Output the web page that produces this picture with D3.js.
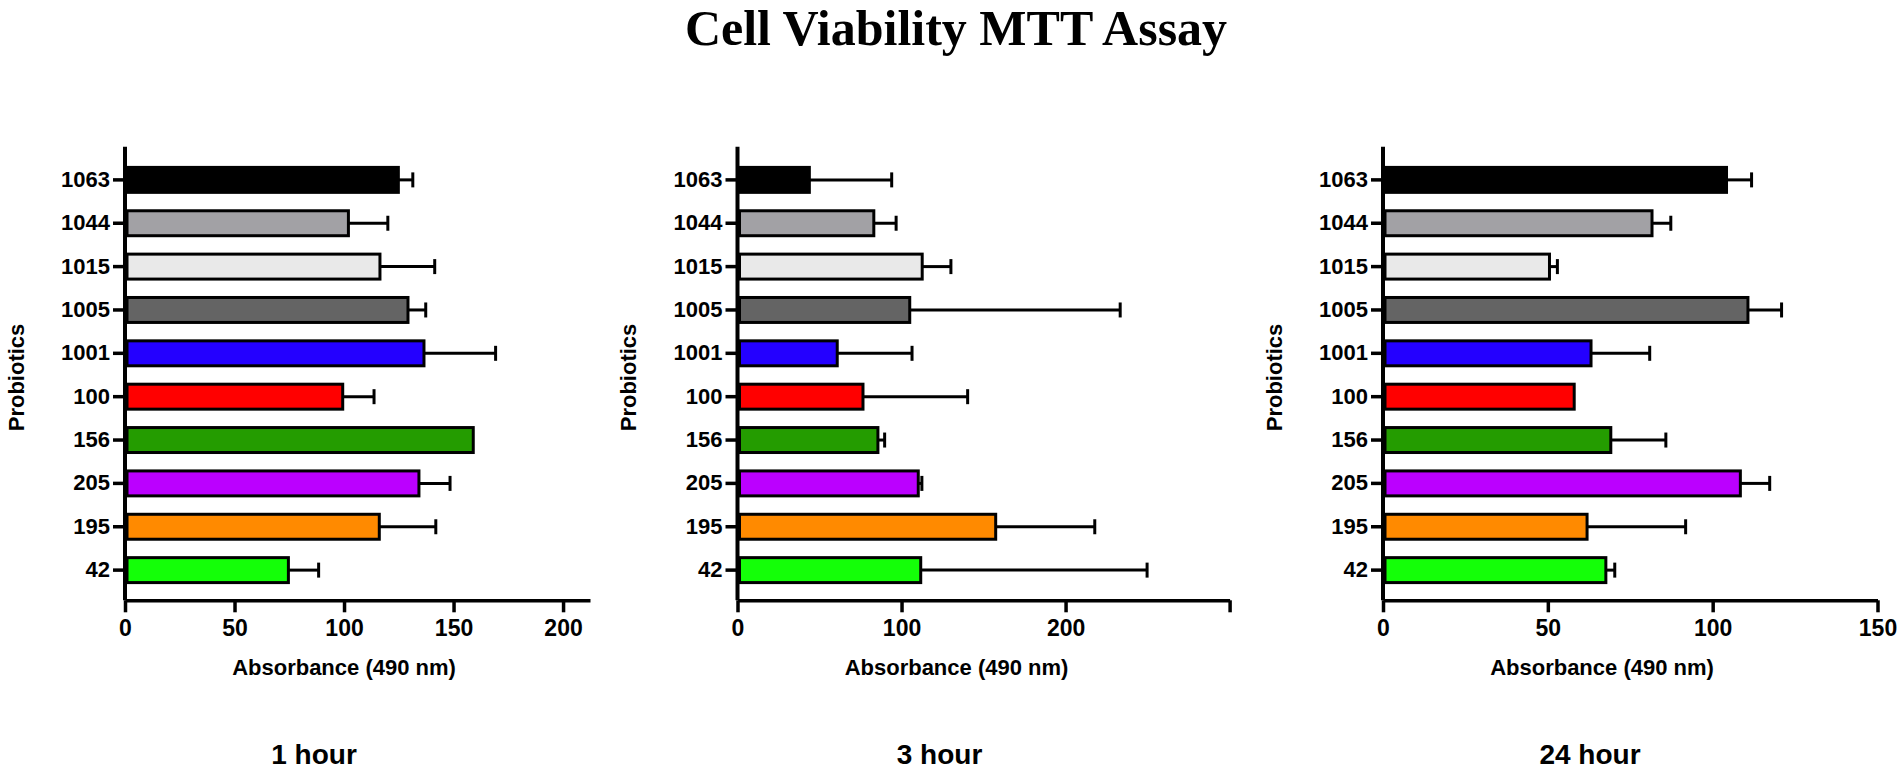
<!DOCTYPE html>
<html>
<head>
<meta charset="utf-8">
<script src="https://cdn.jsdelivr.net/npm/d3@7.8.5/dist/d3.min.js"></script>
<style>
  html, body { margin: 0; padding: 0; background: #fff; }
  svg text { font-family: "Liberation Sans", Arial, sans-serif; font-weight: bold; fill: #000; }
</style>
</head>
<body>
<svg id="chart" width="1902" height="770"></svg>
<script>
// probiotic strains, top to bottom
const probiotics = ["1063", "1044", "1015", "1005", "1001", "100", "156", "205", "195", "42"]
const barColors = ["#000000", "#a2a1a5", "#e9e9e9", "#646464", "#2400ff", "#ff0000", "#249c00", "#bb00ff", "#ff8a00", "#14ff08"]

// absorbance (490 nm), mean and upper error
const mean1h = [124.8, 102.0, 116.4, 129.2, 136.5, 99.4, 159.0, 134.2, 116.1, 74.6]
const err1h  = [6.6, 18.0, 25.0, 8.1, 32.7, 14.3, 0, 14.2, 25.8, 13.8]
const mean3h = [43.8, 83.1, 112.6, 105.0, 60.8, 76.5, 85.6, 110.2, 157.4, 111.7]
const err3h  = [50.2, 13.6, 17.5, 128.3, 45.6, 63.8, 4.1, 2.2, 60.4, 138.0]
const mean24h = [104.2, 81.6, 50.5, 110.7, 63.1, 58.0, 69.1, 108.4, 61.9, 67.6]
const err24h  = [7.6, 5.7, 2.4, 10.2, 17.8, 0, 16.7, 8.9, 29.9, 2.7]

const ticks1h = [0, 50, 100, 150, 200]
const ticks3h = [0, 100, 200, 300]
const labels3h = [0, 100, 200]
const ticks24h = [0, 50, 100, 150]

const title = "Cell Viability MTT Assay"
const xTitle = "Absorbance (490 nm)"
const yTitle = "Probiotics"

const panels = [
  {name: "1 hour", mean: mean1h, err: err1h, max: 212.3, ticks: ticks1h, labels: ticks1h, left: 125, right: 590, nameDx: 189},
  {name: "3 hour", mean: mean3h, err: err3h, max: 300, ticks: ticks3h, labels: labels3h, left: 737.5, right: 1229.6, nameDx: 202},
  {name: "24 hour", mean: mean24h, err: err24h, max: 150, ticks: ticks24h, labels: ticks24h, left: 1383, right: 1877.5, nameDx: 207},
]

const svg = d3.select("#chart")
const axisTop = 146.7, axisBottom = 600.3

svg.append("text")
  .attr("x", 956).attr("y", 45)
  .attr("text-anchor", "middle")
  .style("font-family", '"Liberation Serif", "Times New Roman", serif')
  .style("font-size", "50px")
  .text(title)

const y = d3.scaleBand().domain(probiotics).range([149, 601]).padding(0.4245)

for (const p of panels) {
  const x = d3.scaleLinear().domain([0, p.max]).range([p.left, p.right])
  const g = svg.append("g")

  // bars
  g.selectAll("rect")
    .data(probiotics)
    .join("rect")
      .attr("x", x(0) + 2)
      .attr("y", d => y(d))
      .attr("width", (d, i) => x(p.mean[i]) - x(0) - 2)
      .attr("height", y.bandwidth())
      .attr("fill", (d, i) => barColors[i])
      .attr("stroke", "#000")
      .attr("stroke-width", 3)

  // error bars (upper only)
  const eg = g.append("g").attr("stroke", "#000").attr("stroke-width", 3)
  probiotics.forEach((d, i) => {
    const cy = y(d) + y.bandwidth() / 2
    const xe = x(p.mean[i] + p.err[i])
    if (p.err[i] > 0) {
      eg.append("line").attr("x1", x(p.mean[i])).attr("x2", xe).attr("y1", cy).attr("y2", cy)
      eg.append("line").attr("x1", xe).attr("x2", xe).attr("y1", cy - 7.5).attr("y2", cy + 7.5)
    }
  })

  // y axis
  const ya = g.append("g")
    .attr("transform", `translate(${x(0)},0)`)
    .call(d3.axisLeft(y).tickSize(12).tickPadding(3))
  ya.select(".domain").remove()
  ya.selectAll(".tick line").attr("stroke-width", 3.5)
  ya.selectAll(".tick text").style("font-size", "22px")
  g.append("line")
    .attr("x1", x(0)).attr("x2", x(0)).attr("y1", axisTop).attr("y2", axisBottom)
    .attr("stroke", "#000").attr("stroke-width", 4)

  // x axis
  const xa = g.append("g")
    .attr("transform", `translate(0,${axisBottom})`)
    .call(d3.axisBottom(x).tickValues(p.ticks).tickSize(12).tickSizeOuter(0).tickPadding(7)
      .tickFormat(v => p.labels.includes(v) ? d3.format("d")(v) : ""))
  xa.select(".domain").attr("stroke-width", 3.5)
  xa.selectAll(".tick line").attr("stroke-width", 3.5)
  xa.selectAll(".tick text").style("font-size", "23px")

  svg.append("text")
    .attr("transform", `translate(${x(0) - 109},${(axisTop + axisBottom) / 2 + 4}) rotate(-90)`)
    .attr("text-anchor", "middle")
    .attr("dy", "0.35em")
    .style("font-size", "22px")
    .text(yTitle)

  svg.append("text")
    .attr("x", x(0) + 219).attr("y", 675)
    .attr("text-anchor", "middle")
    .style("font-size", "22px")
    .text(xTitle)

  svg.append("text")
    .attr("x", x(0) + p.nameDx).attr("y", 764)
    .attr("text-anchor", "middle")
    .style("font-size", "28px")
    .text(p.name)
}
</script>
</body>
</html>
